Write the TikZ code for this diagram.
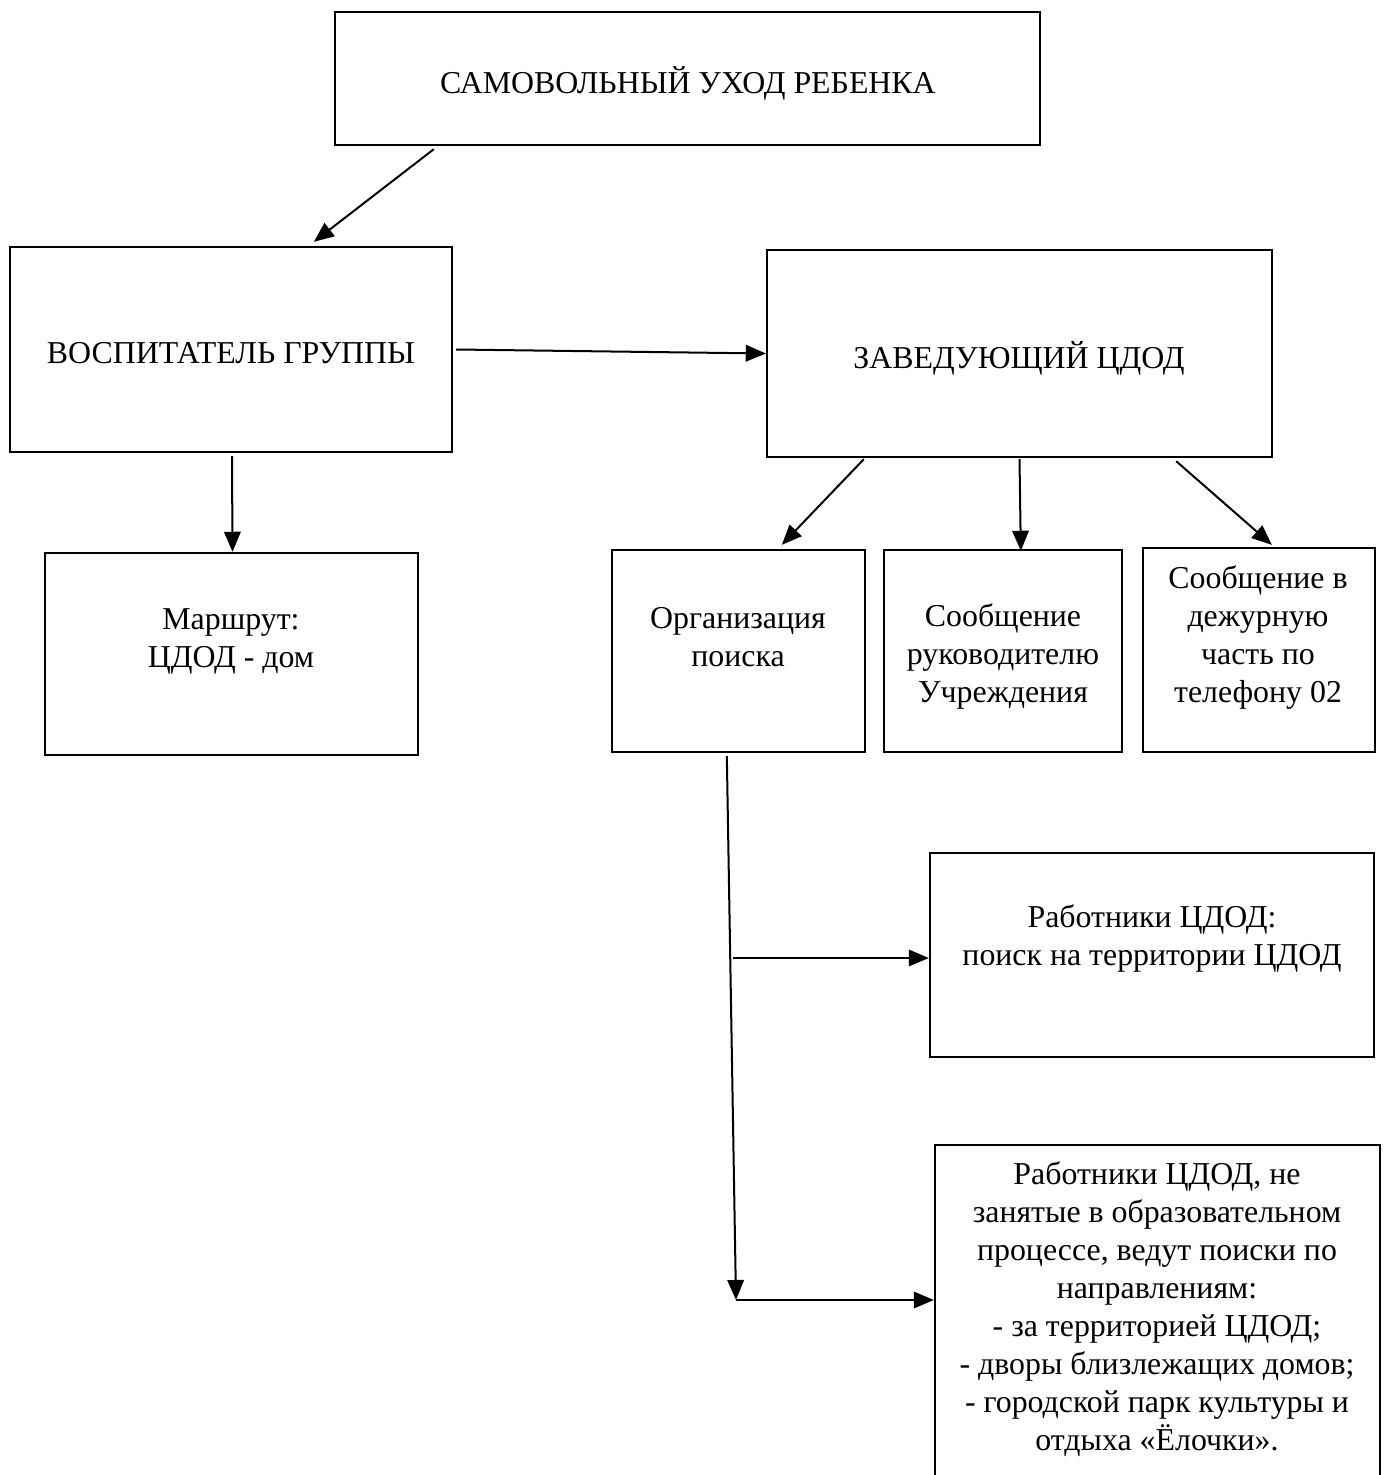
\documentclass[tikz,border=0pt]{standalone}
\usepackage{fontspec}
\setmainfont{Liberation Serif}
\usetikzlibrary{arrows.meta,calc,fit}
\tikzset{
  box/.style={draw, line width=1pt, inner sep=0pt},
  txt/.style={align=center, inner sep=0pt, font=\fontsize{13.5pt}{16.1pt}\selectfont},
  arr/.style={line width=0.85pt, -{Triangle[length=8.5pt,width=7pt]}}
}
\begin{document}
\begin{tikzpicture}[x=0.4237pt, y=-0.4237pt]
\useasboundingbox (0,0) rectangle (1386,1475);
% boxes
\node[box, fit={(335,12) (1040,145)}] (top) {};
\node[box, fit={(10,247) (452,452)}] (vosp) {};
\node[box, fit={(767,250) (1272,457)}] (zav) {};
\node[box, fit={(45,553) (418,755)}] (marsh) {};
\node[box, fit={(612,550) (865,752)}] (org) {};
\node[box, fit={(884,550) (1122,752)}] (soob1) {};
\node[box, fit={(1143,548) (1375,752)}] (soob2) {};
\node[box, fit={(930,853) (1374,1057)}] (rab1) {};
\node[box, fit={(935,1145) (1380,1495)}] (rab2) {};
% texts
\node[txt] (toptxt) at (688,83) {САМОВОЛЬНЫЙ УХОД РЕБЕНКА};
\node[txt] (vosptxt) at (231,353) {ВОСПИТАТЕЛЬ ГРУППЫ};
\node[txt] (zavtxt) at (1019,358) {ЗАВЕДУЮЩИЙ ЦДОД};
\node[txt] (marshtxt) at (231,641) {Маршрут:\\ЦДОД - дом};
\node[txt] (orgtxt) at (738,637) {Организация\\поиска};
\node[txt] (soob1txt) at (1003,656) {Сообщение\\руководителю\\Учреждения};
\node[txt] (soob2txt) at (1258,638) {Сообщение в\\дежурную\\часть по\\телефону 02};
\node[txt] (rab1txt) at (1152,938) {Работники ЦДОД:\\поиск на территории ЦДОД};
\node[txt] (rab2txt) at (1157,1309) {Работники ЦДОД, не\\занятые в образовательном\\процессе, ведут поиски по\\направлениям:\\- за территорией ЦДОД;\\- дворы близлежащих домов;\\- городской парк культуры и\\отдыха «Ёлочки».};
% junctions
\coordinate (j1) at (733,958);
\coordinate (j2) at (736,1300);
% connectors
\draw[arr] ($(top.south west)+(100,3)$) -- ($(vosp.north west)+(305,-4)$);
\draw[arr] ($(vosp.east)+(3,0)$) -- (zav.west);
\draw[arr] ($(vosp.south)+(1,3)$) -- ($(marsh.north)+(1,0)$);
\draw[arr] ($(zav.south west)+(98,1)$) -- ($(org.north west)+(171,-4)$);
\draw[arr] ($(zav.south)+(0,1)$) -- ($(soob1.north west)+(138,2)$);
\draw[arr] ($(zav.south east)+(-97,3)$) -- ($(soob2.north west)+(130,-2)$);
\draw[arr] ($(org.south west)+(116,3)$) -- (j2);
\draw[arr] (j1) -- (j1 -| rab1.west);
\draw[arr] (j2) -- (j2 -| rab2.west);
\end{tikzpicture}
\end{document}
